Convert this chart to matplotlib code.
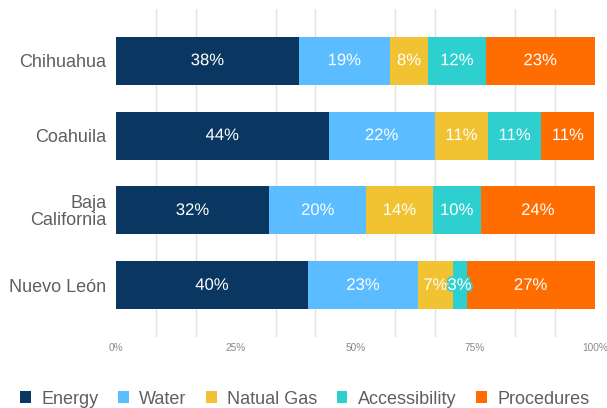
import matplotlib
matplotlib.use("Agg")
import matplotlib.pyplot as plt
from matplotlib import patheffects
from matplotlib.patches import Patch
import numpy as np

# 주(state)별 비용 구성 비율 (%)
states = ["Chihuahua", "Coahuila", "Baja\nCalifornia", "Nuevo León"]
series_names = ["Energy", "Water", "Natual Gas", "Accessibility", "Procedures"]
energy = [38.2, 44.4, 32.0, 40.1]
water = [19.0, 22.2, 20.3, 23.0]
natural_gas = [8.0, 11.1, 13.8, 7.2]
accessibility = [12.0, 11.1, 10.1, 2.9]
procedures = [22.8, 11.1, 23.8, 26.8]
x_ticks = [0, 25, 50, 75, 100]
x_tick_labels = ["0%", "25%", "50%", "75%", "100%"]

colors = ["#0a3761", "#5bbcff", "#f1c232", "#2ecfcf", "#ff6d01"]

plt.rcParams["font.family"] = ["Liberation Sans", "DejaVu Sans"]

fig = plt.figure(figsize=(6.07, 4.08), dpi=100)
ax = fig.add_axes([0.191, 0.174, 0.789, 0.804])

y = np.arange(len(states))
left = np.zeros(len(states))
for name, values, color in zip(
    series_names, [energy, water, natural_gas, accessibility, procedures], colors
):
    values = np.array(values)
    bars = ax.barh(y, values, left=left, height=0.64, color=color, label=name, zorder=2)
    texts = ax.bar_label(
        bars,
        labels=[f"{round(v)}%" for v in values],
        label_type="center",
        color="white",
        fontsize=12,
    )
    for t in texts:
        t.set_path_effects([patheffects.withStroke(linewidth=2.5, foreground=color)])
    left += values

ax.set_xlim(0, 100)
ax.set_ylim(3.69, -0.69)
ax.set_yticks(y)
ax.set_yticklabels(states, fontsize=13, color="#5f5f5f", linespacing=1.0)
ax.set_xticks(x_ticks)
ax.set_xticklabels(x_tick_labels, fontsize=7.3, color="#8a8a8a")
ax.set_xticks([k * 100 / 12 for k in range(13) if k % 3 != 0], minor=True)
ax.tick_params(axis="y", length=0, pad=7)
ax.tick_params(axis="x", which="both", length=0, pad=4)
ax.grid(axis="x", which="minor", color="#e3e3e3", linewidth=1.0, zorder=0)
ax.grid(axis="x", which="major", visible=False)
for spine in ax.spines.values():
    spine.set_visible(False)

handles = [Patch(facecolor=c, edgecolor="none") for c in colors]
fig.legend(
    handles,
    series_names,
    loc="center",
    bbox_to_anchor=(0.502, 0.022),
    ncol=5,
    frameon=False,
    fontsize=13,
    labelcolor="#5f5f5f",
    handlelength=0.6,
    handleheight=0.6,
    handletextpad=0.6,
    columnspacing=1.05,
)

fig.savefig("out.png", dpi=100)
